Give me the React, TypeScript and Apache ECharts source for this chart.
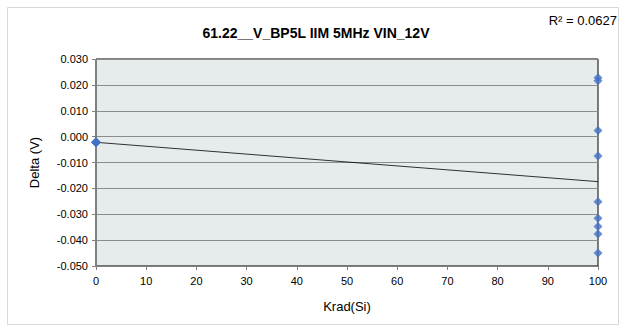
import React, { useEffect, useRef } from "react";
import * as echarts from "echarts";

const title = "61.22__V_BP5L IIM 5MHz VIN_12V";
const xTitle = "Krad(Si)";
const yTitle = "Delta (V)";
const rSquared = "R² = 0.0627";

const doseX = [0, 0, 0, 0, 0, 0, 0, 0, 0, 100, 100, 100, 100, 100, 100, 100, 100, 100];
const deltaY = [
  -0.0021, -0.0022, -0.0023, -0.0022, -0.0021, -0.0023, -0.0022, -0.0022, -0.0021,
  0.0228, 0.0216, 0.0024, -0.0075, -0.0252, -0.0315, -0.0347, -0.0376, -0.045,
];
const trendX = [0, 100];
const trendY = [-0.0022, -0.0174];

export default function App() {
  const ref = useRef<HTMLDivElement>(null);
  useEffect(() => {
    document.body.style.margin = "0";
    const chart = echarts.init(ref.current!, null, { renderer: "svg" });
    const font = "'Liberation Sans', Arial, sans-serif";
    chart.setOption({
      animation: false,
      backgroundColor: "#ffffff",
      textStyle: { fontFamily: font },
      graphic: [
        {
          type: "rect",
          shape: { x: 7.5, y: 7.5, width: 611, height: 317 },
          style: { fill: "none", stroke: "#d9d9d9", lineWidth: 1 },
          silent: true,
        },
        {
          type: "text",
          x: 316,
          y: 33,
          style: {
            text: title,
            font: `bold 14px ${font}`,
            fill: "#000",
            align: "center",
            verticalAlign: "middle",
          },
        },
        {
          type: "text",
          x: 617,
          y: 20,
          style: {
            text: rSquared,
            font: `13px ${font}`,
            fill: "#000",
            align: "right",
            verticalAlign: "middle",
          },
        },
      ],
      grid: {
        left: 96,
        right: 27,
        top: 59,
        bottom: 65,
        show: true,
        backgroundColor: "#e6ecec",
        borderColor: "#000",
        borderWidth: 1,
      },
      xAxis: {
        type: "value",
        min: 0,
        max: 100,
        interval: 10,
        name: xTitle,
        nameLocation: "middle",
        nameGap: 34,
        nameTextStyle: { fontSize: 13, color: "#000", fontFamily: font },
        axisLine: { show: true, onZero: false, lineStyle: { color: "#808080" } },
        axisTick: { show: true, length: 4, lineStyle: { color: "#808080" } },
        axisLabel: { fontSize: 11, color: "#000", margin: 9 },
        splitLine: { show: false },
      },
      yAxis: {
        type: "value",
        min: -0.05,
        max: 0.03,
        interval: 0.01,
        name: yTitle,
        nameLocation: "middle",
        nameGap: 55,
        nameTextStyle: { fontSize: 13, color: "#000", fontFamily: font },
        axisLine: { show: true, lineStyle: { color: "#808080" } },
        axisTick: { show: true, length: 4, lineStyle: { color: "#808080" } },
        axisLabel: {
          fontSize: 11,
          color: "#000",
          margin: 8,
          formatter: (v: number) => (Math.abs(v) < 1e-9 ? "0.000" : v.toFixed(3)),
        },
        splitLine: { show: true, lineStyle: { color: "#8c8c8c", width: 1 } },
      },
      series: [
        {
          type: "line",
          data: trendX.map((x, i) => [x, trendY[i]]),
          symbol: "none",
          lineStyle: { color: "#000", width: 0.8 },
          z: 2,
        },
        {
          type: "scatter",
          data: doseX.map((x, i) => [x, deltaY[i]]),
          symbol: "diamond",
          symbolSize: 9,
          itemStyle: { color: "#4472c4" },
          z: 3,
        },
      ],
    });
    return () => chart.dispose();
  }, []);
  return <div ref={ref} style={{ width: 625, height: 331 }} />;
}
